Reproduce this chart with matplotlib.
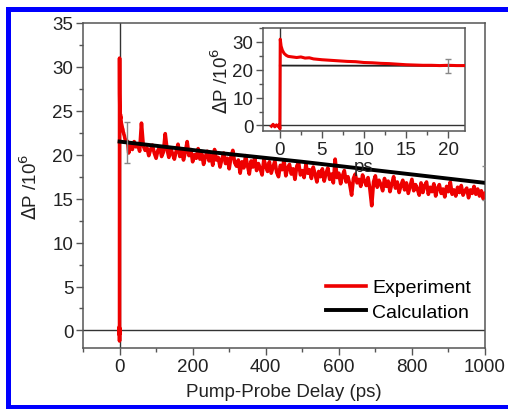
import numpy as np
import matplotlib
matplotlib.use('Agg')
import matplotlib.pyplot as plt
from matplotlib.patches import Rectangle
from matplotlib.ticker import MultipleLocator

plt.rcParams['font.family'] = ['Liberation Sans', 'DejaVu Sans']

# early-time data (also shown in the inset), ps / 10^6
inset_t = [-1.0, -0.8, -0.6, -0.4, -0.2, -0.05, 0.0, 0.05, 0.15, 0.3, 0.5, 0.75, 1.0,
           1.5, 2.0, 2.5, 3.0, 3.5, 4.0, 5.0, 6.0, 7.0, 8.0, 9.0, 10.0, 11.0, 12.0,
           13.0, 14.0, 15.0, 16.0, 17.0, 18.0, 19.0, 20.0, 21.0, 22.0]
inset_p = [-0.3, 0.4, -0.5, 0.2, -0.4, 0.3, -1.2, 31.0, 28.5, 27.0, 25.9, 25.2, 24.8,
           24.6, 24.4, 24.6, 24.2, 24.3, 23.9, 23.6, 23.4, 23.2, 23.0, 22.9, 22.6, 22.5,
           22.3, 22.2, 22.0, 21.8, 21.7, 21.6, 21.6, 21.5, 21.6, 21.5, 21.5]

# long-time data, every 5 ps from 25 to 1000 ps
late_t = np.arange(25, 1001, 5)
late_p = [
    20.2, 21.3, 20.6, 21.5, 20.9, 21.2, 20.4, 23.6, 21.0, 20.5,
    20.8, 19.9, 20.6, 21.1, 20.2, 19.6, 20.5, 20.9, 19.8, 20.3,
    22.4, 20.6, 19.7, 20.8, 20.1, 19.5, 20.4, 21.2, 19.8, 20.5,
    19.4, 20.3, 21.5, 19.9, 20.6, 19.2, 20.0, 19.6, 20.7, 19.5,
    20.1, 18.9, 19.8, 20.4, 19.3, 19.9, 18.8, 20.6, 19.4, 19.7,
    18.6, 19.5, 20.2, 19.0, 19.6, 18.4, 19.8, 20.5, 19.1, 18.7,
    19.4, 17.9, 19.2, 18.5, 19.9, 18.8, 17.8, 19.3, 18.6, 19.7,
    18.2, 19.0, 18.4, 17.7, 19.5, 18.7, 18.1, 19.2, 17.9, 18.6,
    19.3, 18.0, 17.5, 18.8, 18.3, 19.4, 17.6, 18.5, 18.9, 17.8,
    18.4, 17.2, 18.7, 19.1, 17.7, 18.2, 17.4, 18.9, 17.9, 18.3,
    17.3, 18.6, 17.8, 16.9, 18.1, 17.5, 18.4, 17.0, 17.9, 18.5,
    17.2, 17.8, 16.8, 19.5, 17.4, 17.9, 16.7, 17.6, 18.2, 16.9,
    17.5, 16.6, 15.4, 17.3, 17.8, 16.8, 17.2, 16.4, 17.7, 17.0,
    16.5, 17.4, 16.1, 14.2, 16.9, 17.6, 16.3, 17.1, 16.6, 15.9,
    17.3, 16.4, 17.0, 15.8, 16.7, 17.5, 16.2, 16.9, 15.7, 16.5,
    17.1, 16.0, 16.8, 15.6, 16.4, 17.2, 15.9, 16.6, 16.1, 15.4,
    16.8, 15.7, 16.5, 16.9, 15.5, 16.3, 15.8, 16.7, 15.3, 16.2,
    16.6, 15.6, 16.1, 15.2, 16.4, 15.8, 16.9, 15.5, 16.0, 15.3,
    16.3, 15.7, 16.5, 15.4, 15.9, 16.2, 15.1, 16.0, 15.6, 16.4,
    15.5, 16.1, 15.3, 15.9, 15.0, 15.6]

# calculation
calc_t = [0, 250, 500, 750, 1000]
calc_p = [21.5, 20.3, 19.2, 18.0, 16.8]

# error bars
err_t = [20, 1000]
err_p = [21.4, 16.8]
err_e = [2.3, 1.9]
inset_err_t = [20]
inset_err_p = [21.5]
inset_err_e = [2.5]

exp_t = np.concatenate([inset_t, late_t])
exp_p = np.concatenate([inset_p, late_p])

red = '#ee0000'
spine_c = '#555555'
txt_c = '#222222'

fig = plt.figure(figsize=(5.08, 4.10), dpi=100)

# blue frame (top, left, bottom)
blue = dict(transform=fig.transFigure, facecolor='#0000ff', edgecolor='none', zorder=10)
fig.add_artist(Rectangle((6 / 508, 1 - 13 / 410), 1, 5 / 410, **blue))
fig.add_artist(Rectangle((6 / 508, 0), 5 / 508, 1 - 8 / 410, **blue))
fig.add_artist(Rectangle((6 / 508, 0), 1, 4 / 410, **blue))


def style_axes(ax, fs):
    for s in ax.spines.values():
        s.set_color(spine_c)
        s.set_linewidth(1.1)
    ax.tick_params(which='both', direction='out', color=spine_c, labelcolor=txt_c,
                   labelsize=fs, top=False, right=False, width=1, pad=2)
    ax.tick_params(which='major', length=5)
    ax.tick_params(which='minor', length=3)


ax = fig.add_axes([83 / 508, 1 - 349 / 410, 402 / 508, 325 / 410])
ax.axhline(0, color='#333333', lw=1, zorder=1)
ax.axvline(0, color='#333333', lw=1, zorder=1)
ax.plot(exp_t, exp_p, color=red, lw=2.6, label='Experiment', zorder=3)
ax.plot(calc_t, calc_p, color='black', lw=2.8, label='Calculation', zorder=4)
ax.errorbar(err_t, err_p, yerr=err_e, fmt='none', ecolor='#888888', elinewidth=1,
            capsize=2.5, zorder=5)
ax.set_xlim(-100, 1000)
ax.set_ylim(-2, 35)
ax.xaxis.set_major_locator(MultipleLocator(200))
ax.xaxis.set_minor_locator(MultipleLocator(100))
ax.yaxis.set_major_locator(MultipleLocator(5))
ax.yaxis.set_minor_locator(MultipleLocator(2.5))
style_axes(ax, 13.5)
ax.set_xlabel('Pump-Probe Delay (ps)', fontsize=13.5, color=txt_c, labelpad=6)
ax.set_ylabel(r'$\Delta$P /10$^6$', fontsize=13.5, color=txt_c, labelpad=8)
ax.legend(loc='lower right', bbox_to_anchor=(0.985, 0.06), frameon=False, fontsize=14,
          handlelength=2.1, handletextpad=0.3, labelspacing=0.35, borderaxespad=0)

ins = fig.add_axes([263 / 508, 1 - 132 / 410, 202 / 508, 103 / 410])
ins.axhline(0, color='#333333', lw=1, zorder=1)
ins.axvline(0, color='#333333', lw=1, zorder=1)
ins.plot(inset_t, inset_p, color=red, lw=2.2, zorder=3)
ins.plot(calc_t, calc_p, color='#222222', lw=1.3, zorder=2)
ins.errorbar(inset_err_t, inset_err_p, yerr=inset_err_e, fmt='none', ecolor='#888888',
             elinewidth=1, capsize=2, zorder=5)
ins.set_xlim(-2, 22)
ins.set_ylim(-2, 35)
ins.xaxis.set_major_locator(MultipleLocator(5))
ins.xaxis.set_minor_locator(MultipleLocator(2.5))
ins.yaxis.set_major_locator(MultipleLocator(10))
ins.yaxis.set_minor_locator(MultipleLocator(5))
style_axes(ins, 13.5)
ins.set_xlabel('ps', fontsize=13.5, color=txt_c, labelpad=0)
ins.set_ylabel(r'$\Delta$P /10$^6$', fontsize=13.5, color=txt_c, labelpad=0)

fig.savefig('out.png', dpi=100)
